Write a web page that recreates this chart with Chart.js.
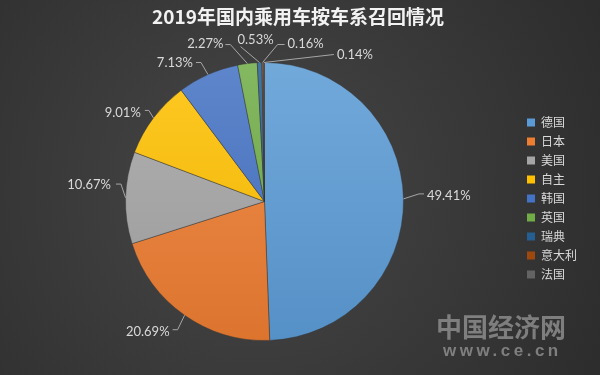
<!DOCTYPE html>
<html><head><meta charset="utf-8">
<script src="https://cdn.jsdelivr.net/npm/chart.js@4.4.1/dist/chart.umd.min.js"></script>
<style>html,body{margin:0;padding:0;background:#3a3a3a;overflow:hidden}</style>
</head><body>
<canvas id="c" width="600" height="375"></canvas>
<script>
// ---- data ----
const titleText = '2019年国内乘用车按车系召回情况';
const categories = ['德国','日本','美国','自主','韩国','英国','瑞典','意大利','法国'];
const shares = [49.41, 20.69, 10.67, 9.01, 7.13, 2.27, 0.53, 0.16, 0.14];
const valueLabels = ['49.41%','20.69%','10.67%','9.01%','7.13%','2.27%','0.53%','0.16%','0.14%'];

// ---- styles ----
const colors = ['#5B9BD5','#ED7D31','#A5A5A5','#FFC000','#4472C4','#70AD47','#255E91','#9E480E','#636363'];
// label placement relative to each slice's outer mid point
const labelLayout = [
  {path:[[15.5,-5],[20.5,-5]], tx:23.5, ty:-3, align:'left'},
  {path:[[-7,14.5],[-12,14.5]], tx:-15, ty:16.5, align:'right'},
  {path:[[-4.6,-13.7],[-9.6,-13.7]], tx:-14.6, ty:-12.7, align:'right'},
  {path:[[-4.6,-7.5],[-8.6,-7.5]], tx:-12.6, ty:-5.5, align:'right'},
  {path:[[-7,-12],[-12,-12]], tx:-15, ty:-12, align:'right'},
  {path:[[-17,-19],[-22,-19]], tx:-24, ty:-20, align:'right'},
  {path:[[-19,-16]], tx:-4, ty:-23, align:'center'},
  {path:[[15,-18],[22,-18]], tx:25, ty:-19, align:'left'},
  {path:[[70,-8]], tx:73, ty:-8, align:'left'}
];

function mix(hex, target, t){
  const n = parseInt(hex.slice(1),16);
  const r=(n>>16)&255,g=(n>>8)&255,b=n&255;
  const m = target==='w'?255:0;
  return `rgb(${Math.round(r+(m-r)*t)},${Math.round(g+(m-g)*t)},${Math.round(b+(m-b)*t)})`;
}

const bgPlugin = {
  id:'bg',
  beforeDraw(chart){
    const {ctx,width,height}=chart;
    ctx.save();
    const g = ctx.createRadialGradient(250,190,0,250,190,430);
    g.addColorStop(0,'#474747');
    g.addColorStop(1,'#2a2a2a');
    ctx.fillStyle=g;
    ctx.fillRect(0,0,width,height);
    ctx.restore();
  }
};

const labelPlugin = {
  id:'sliceLabels',
  afterDraw(chart){
    const {ctx}=chart;
    const meta = chart.getDatasetMeta(0);
    ctx.save();
    meta.data.forEach((arc,i)=>{
      const L = labelLayout[i];
      const mid = (arc.startAngle+arc.endAngle)/2;
      const ex = arc.x + arc.outerRadius*Math.cos(mid);
      const ey = arc.y + arc.outerRadius*Math.sin(mid);
      ctx.strokeStyle='#a6a6a6';
      ctx.lineWidth=1;
      ctx.beginPath();
      ctx.moveTo(ex,ey);
      L.path.forEach(p=>ctx.lineTo(ex+p[0],ey+p[1]));
      ctx.stroke();
      ctx.fillStyle='#d9d9d9';
      ctx.font='13px Lato, "Liberation Sans", sans-serif';
      ctx.textAlign=L.align;
      ctx.textBaseline='middle';
      ctx.fillText(valueLabels[i], ex+L.tx, ey+L.ty);
    });
    // watermark
    ctx.fillStyle='rgba(140,140,140,0.85)';
    ctx.textAlign='left';
    ctx.textBaseline='middle';
    ctx.font='bold 26px "Noto Sans CJK SC", sans-serif';
    ctx.fillText('中国经济网', 436, 327);
    ctx.font='bold 17px "Liberation Sans", Arial, sans-serif';
    if ('letterSpacing' in ctx) ctx.letterSpacing='3.5px';
    ctx.fillText('www.ce.cn', 443, 351);
    ctx.restore();
  }
};

new Chart(document.getElementById('c'), {
  type:'pie',
  data:{
    labels:categories,
    datasets:[{
      data:shares,
      backgroundColor:(c)=>{
        const base = colors[c.dataIndex % colors.length];
        const area = c.chart.chartArea;
        if(!area) return base;
        const g = c.chart.ctx.createLinearGradient(0,area.top,0,area.bottom);
        g.addColorStop(0, mix(base,'w',0.14));
        g.addColorStop(1, mix(base,'b',0.07));
        return g;
      },
      borderColor:'rgba(50,50,50,0.45)',
      borderWidth:1
    }]
  },
  options:{
    responsive:false,
    animation:false,
    events:[],
    layout:{padding:{left:9,right:13,top:0,bottom:34}},
    plugins:{
      title:{
        display:true,
        text:titleText,
        color:'#f2f2f2',
        font:{family:'"Noto Sans CJK SC", sans-serif', size:19, weight:'bold'},
        padding:{top:5,bottom:34.2}
      },
      legend:{
        position:'right',
        align:'center',
        title:{display:true, text:'', font:{size:12}, padding:{top:41.6,bottom:0}},
        labels:{
          boxWidth:8, boxHeight:8, padding:7,
          color:'#d9d9d9',
          font:{family:'"Noto Sans CJK SC", sans-serif', size:12},
          generateLabels(){
            return categories.map((c,i)=>({text:c, fillStyle:colors[i], strokeStyle:colors[i], lineWidth:0, hidden:false, index:i, fontColor:'#d9d9d9'}));
          }
        }
      },
      tooltip:{enabled:false}
    }
  },
  plugins:[bgPlugin,labelPlugin]
});
</script>
</body></html>
